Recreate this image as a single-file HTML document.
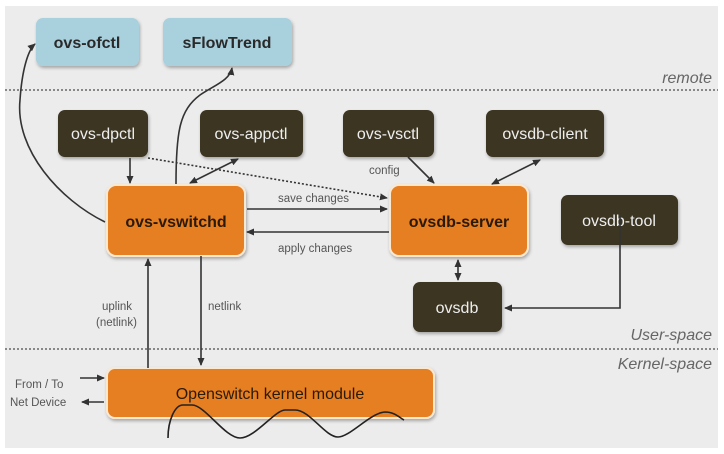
<!DOCTYPE html>
<html><head><style>
body{margin:0;background:#fff;}
svg{display:block;font-family:"Liberation Sans",sans-serif;}
</style></head><body>
<svg width="724" height="454" viewBox="0 0 724 454">
<defs>
<marker id="a" markerWidth="8" markerHeight="8" refX="7" refY="4" orient="auto" markerUnits="userSpaceOnUse"><path d="M0,0.5 L8,4 L0,7.5z" fill="#333"/></marker>
<marker id="s" markerWidth="8" markerHeight="8" refX="1" refY="4" orient="auto" markerUnits="userSpaceOnUse"><path d="M8,0.5 L0,4 L8,7.5z" fill="#333"/></marker>
<filter id="sh"><feDropShadow dx="1" dy="2" stdDeviation="1.5" flood-opacity="0.3"/></filter>
</defs>
<rect x="5" y="6" width="713" height="442" fill="#ececec"/>
<line x1="5" y1="90" x2="718" y2="90" stroke="#888" stroke-width="2" stroke-dasharray="2,2"/>
<line x1="5" y1="349" x2="718" y2="349" stroke="#888" stroke-width="2" stroke-dasharray="2,2"/>
<g font-style="italic" fill="#666" font-size="16" text-anchor="end">
<text x="712" y="83">remote</text><text x="712" y="340">User-space</text><text x="712" y="369">Kernel-space</text></g>
<g filter="url(#sh)">
<rect x="36" y="18" width="103" height="48" rx="7" fill="#a8d0dd"/>
<rect x="163" y="18" width="129" height="48" rx="7" fill="#a8d0dd"/>
<rect x="58" y="110" width="90" height="47" rx="7" fill="#3b3420"/>
<rect x="200" y="110" width="103" height="47" rx="7" fill="#3b3420"/>
<rect x="343" y="110" width="91" height="47" rx="7" fill="#3b3420"/>
<rect x="486" y="110" width="118" height="47" rx="7" fill="#3b3420"/>
<rect x="561" y="195" width="117" height="50" rx="7" fill="#3b3420"/>
<rect x="413" y="282" width="89" height="50" rx="7" fill="#3b3420"/>
<rect x="107" y="185" width="138" height="71" rx="9" fill="#e67e22" stroke="#fbe8d0" stroke-width="2"/>
<rect x="390" y="185" width="138" height="71" rx="9" fill="#e67e22" stroke="#fbe8d0" stroke-width="2"/>
<rect x="107" y="368" width="327" height="50" rx="8" fill="#e67e22" stroke="#fbe8d0" stroke-width="2"/>
</g>
<g font-size="16" text-anchor="middle">
<text x="87" y="48" fill="#2a2a2a" font-weight="bold">ovs-ofctl</text>
<text x="227" y="48" fill="#2a2a2a" font-weight="bold">sFlowTrend</text>
<g fill="#eee"><text x="103" y="139">ovs-dpctl</text><text x="251" y="139">ovs-appctl</text><text x="388" y="139">ovs-vsctl</text><text x="545" y="139">ovsdb-client</text><text x="619" y="226">ovsdb-tool</text><text x="457" y="313">ovsdb</text></g>
<g fill="#2a1a0a" font-weight="bold"><text x="176" y="227">ovs-vswitchd</text><text x="459" y="227">ovsdb-server</text><text x="270" y="399" font-weight="normal">Openswitch kernel module</text></g>
</g>
<g fill="#555" font-size="11.5">
<text x="278" y="202">save changes</text><text x="278" y="252">apply changes</text>
<text x="369" y="174">config</text>
<text x="102" y="310">uplink</text><text x="96" y="326">(netlink)</text>
<text x="208" y="310">netlink</text>
<text x="15" y="388">From / To</text><text x="10" y="406">Net Device</text>
</g>
<g stroke="#333" stroke-width="1.6" fill="none">
<path d="M105,222 C60,200 15,150 20,100 C22,70 28,50 35,44" marker-end="url(#a)"/>
<path d="M176,184 C176,130 180,110 200,95 C215,85 230,80 232,68" marker-end="url(#a)"/>
<line x1="130" y1="158" x2="130" y2="183" marker-end="url(#a)"/>
<line x1="190" y1="183" x2="238" y2="159" marker-start="url(#s)" marker-end="url(#a)"/>
<path d="M148,158 L387,198" stroke-dasharray="2,2" marker-end="url(#a)"/>
<line x1="247" y1="209" x2="387" y2="209" marker-end="url(#a)"/>
<line x1="389" y1="232" x2="247" y2="232" marker-end="url(#a)"/>
<line x1="408" y1="157" x2="434" y2="183" marker-end="url(#a)"/>
<line x1="492" y1="184" x2="540" y2="160" marker-start="url(#s)" marker-end="url(#a)"/>
<line x1="458" y1="260" x2="458" y2="280" marker-start="url(#s)" marker-end="url(#a)"/>
<path d="M620,246 L620,338 L505,338" transform="translate(0,-30)" marker-end="url(#a)"/>
<line x1="148" y1="368" x2="148" y2="259" marker-end="url(#a)"/>
<line x1="201" y1="256" x2="201" y2="365" marker-end="url(#a)"/>
<line x1="80" y1="378" x2="104" y2="378" marker-end="url(#a)"/>
<line x1="104" y1="402" x2="82" y2="402" marker-end="url(#a)"/>
<path d="M168,438 C168,420 175,405 183,405 L192,405 C205,405 225,438 240,438 C255,438 275,410 285,410 L295,410 C310,410 325,437 338,437 C350,437 370,413 385,412 C395,412 400,418 404,420" stroke="#222"/>
</g>
</svg>
</body></html>
